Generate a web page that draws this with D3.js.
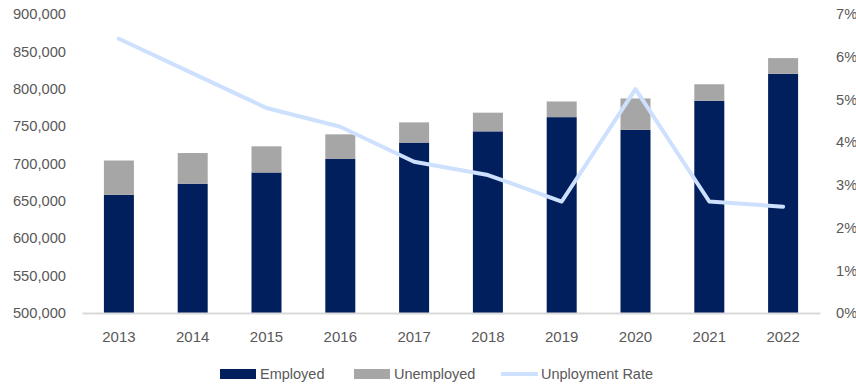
<!DOCTYPE html>
<html>
<head>
<meta charset="utf-8">
<script src="https://cdn.jsdelivr.net/npm/d3@7"></script>
<style>
  html, body { margin: 0; padding: 0; background: #fff; }
  svg { display: block; }
  text { font-family: "Liberation Sans", Arial, sans-serif; fill: #595959; }
</style>
</head>
<body>
<svg id="chart" width="856" height="386"></svg>
<script>
const years = ["2013","2014","2015","2016","2017","2018","2019","2020","2021","2022"];
const employed = [658000, 673000, 688000, 706000, 728000, 743000, 762000, 745000, 784000, 820000];
const unemployed = [46000, 41000, 35000, 33000, 27000, 25000, 21000, 42000, 22000, 21000];
const unemploymentRate = [0.0642, 0.0561, 0.0480, 0.0436, 0.0354, 0.0323, 0.0261, 0.0524, 0.0261, 0.0249];
const leftTicks = [500000, 550000, 600000, 650000, 700000, 750000, 800000, 850000, 900000];
const rightTicks = [0, 0.01, 0.02, 0.03, 0.04, 0.05, 0.06, 0.07];
const legendLabels = ["Employed", "Unemployed", "Unployment Rate"];

const colors = { employed: "#001f5c", unemployed: "#a6a6a6", rate: "#cde0fd", axis: "#d9d9d9" };

const svg = d3.select("#chart");
const x = d3.scaleBand().domain(years).range([82, 820]).paddingInner(0.5935).paddingOuter(0.5935 / 2);
const yL = d3.scaleLinear().domain([500000, 900000]).range([313, 14]);
const yR = d3.scaleLinear().domain([0, 0.07]).range([313, 14]);

// bars
const g = svg.append("g");
g.selectAll("rect.emp").data(years).join("rect")
  .attr("class", "emp")
  .attr("x", d => x(d)).attr("width", x.bandwidth())
  .attr("y", (d, i) => yL(employed[i]))
  .attr("height", (d, i) => yL(500000) - yL(employed[i]))
  .attr("fill", colors.employed);
g.selectAll("rect.unemp").data(years).join("rect")
  .attr("class", "unemp")
  .attr("x", d => x(d)).attr("width", x.bandwidth())
  .attr("y", (d, i) => yL(employed[i] + unemployed[i]))
  .attr("height", (d, i) => yL(employed[i]) - yL(employed[i] + unemployed[i]))
  .attr("fill", colors.unemployed);

// baseline axis
const xAxis = d3.axisBottom(x).tickSize(0).tickPadding(18);
const xg = svg.append("g").attr("transform", `translate(0,${yL(500000)})`).call(xAxis);
xg.select(".domain").attr("stroke", colors.axis).attr("stroke-width", 2);
xg.selectAll("text").style("font-size", "15px").attr("fill", "#595959")
  .attr("font-family", "Liberation Sans, Arial, sans-serif");

// left axis
const fmt = d3.format(",");
const lAxis = d3.axisLeft(yL).tickValues(leftTicks).tickFormat(fmt).tickSize(0).tickPadding(0);
const lg = svg.append("g").attr("transform", "translate(66,0)").call(lAxis);
lg.select(".domain").remove();
lg.selectAll("text").style("font-size", "14.7px").attr("fill", "#595959")
  .attr("font-family", "Liberation Sans, Arial, sans-serif");

// right axis
const rAxis = d3.axisRight(yR).tickValues(rightTicks).tickFormat(d3.format(".0%")).tickSize(0).tickPadding(0);
const rg = svg.append("g").attr("transform", "translate(836,0)").call(rAxis);
rg.select(".domain").remove();
rg.selectAll("text").style("font-size", "14.7px").attr("fill", "#595959")
  .attr("font-family", "Liberation Sans, Arial, sans-serif");

// line
const line = d3.line()
  .x((d, i) => x(years[i]) + x.bandwidth() / 2)
  .y(d => yR(d));
svg.append("path").datum(unemploymentRate)
  .attr("d", line)
  .attr("fill", "none")
  .attr("stroke", colors.rate)
  .attr("stroke-width", 4)
  .attr("stroke-linejoin", "round")
  .attr("stroke-linecap", "round");

// legend
const leg = svg.append("g").attr("class", "legend");
const legY = 374;
const items = [
  { label: legendLabels[0], type: "rect", color: colors.employed, x: 220 },
  { label: legendLabels[1], type: "rect", color: colors.unemployed, x: 354 },
  { label: legendLabels[2], type: "line", color: colors.rate, x: 501 }
];
items.forEach(it => {
  if (it.type === "rect") {
    leg.append("rect").attr("x", it.x).attr("y", legY - 5).attr("width", 36).attr("height", 10).attr("fill", it.color);
  } else {
    leg.append("line").attr("x1", it.x).attr("x2", it.x + 37).attr("y1", legY).attr("y2", legY)
      .attr("stroke", it.color).attr("stroke-width", 4);
  }
  leg.append("text").attr("x", it.x + 40).attr("y", legY).attr("dy", "0.35em")
    .style("font-size", "14.5px").text(it.label);
});
</script>
</body>
</html>
